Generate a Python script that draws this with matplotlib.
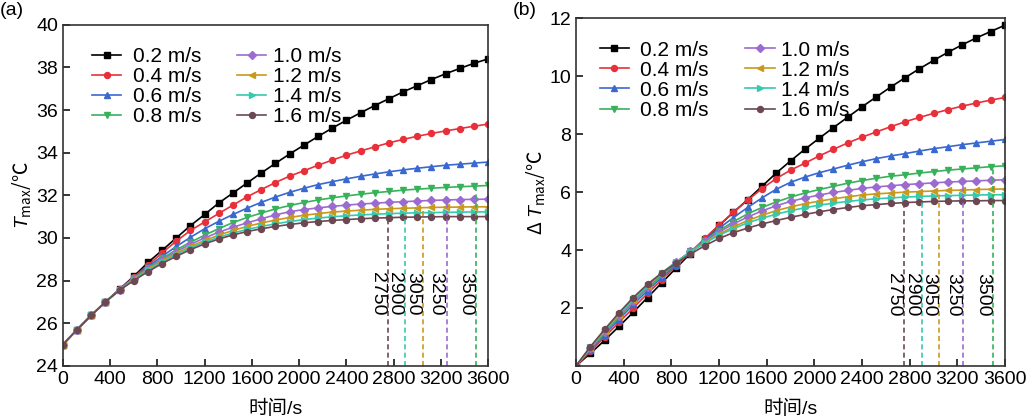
import numpy as np
import matplotlib
matplotlib.use("Agg")
import matplotlib.pyplot as plt
from matplotlib.lines import Line2D
from matplotlib.legend_handler import HandlerLine2D

plt.rcParams["font.family"] = ["Liberation Sans", "Noto Sans CJK SC", "DejaVu Sans"]
plt.rcParams["mathtext.fontset"] = "custom"
plt.rcParams["mathtext.rm"] = "Noto Sans CJK SC"
plt.rcParams["mathtext.it"] = "Liberation Sans:italic"

# time axis: one point every 120 s
time_s = np.arange(0, 3601, 120)

speeds = ["0.2 m/s", "0.4 m/s", "0.6 m/s", "0.8 m/s",
          "1.0 m/s", "1.2 m/s", "1.4 m/s", "1.6 m/s"]
colors = ["#000000", "#e8303a", "#3868d0", "#38b25a",
          "#9c6bd0", "#c8991c", "#36c9ad", "#6d4752"]
markers = ["s", "o", "^", "v", "D", "<", ">", "o"]

# (a) maximum temperature, degC
tmax = [
    [25.0, 25.7, 26.37, 27.0, 27.6, 28.2, 28.85, 29.42, 30.0, 30.58, 31.1, 31.64, 32.11, 32.58,
     33.05, 33.5, 33.94, 34.35, 34.76, 35.15, 35.52, 35.87, 36.21, 36.53, 36.85, 37.14, 37.43,
     37.7, 37.95, 38.19, 38.4],
    [25.0, 25.7, 26.37, 27.0, 27.59, 28.16, 28.72, 29.3, 29.85, 30.35, 30.75, 31.15, 31.54, 31.93,
     32.27, 32.6, 32.9, 33.15, 33.41, 33.65, 33.88, 34.08, 34.27, 34.46, 34.62, 34.77, 34.9,
     35.02, 35.13, 35.24, 35.34],
    [25.0, 25.7, 26.37, 27.0, 27.58, 28.13, 28.65, 29.14, 29.6, 30.03, 30.43, 30.78, 31.1, 31.4,
     31.67, 31.92, 32.14, 32.33, 32.5, 32.64, 32.77, 32.89, 33.0, 33.1, 33.19, 33.27, 33.34,
     33.41, 33.46, 33.51, 33.56],
    [25.0, 25.7, 26.37, 27.0, 27.57, 28.1, 28.6, 29.04, 29.44, 29.8, 30.13, 30.44, 30.72, 30.96,
     31.17, 31.36, 31.52, 31.66, 31.78, 31.88, 31.97, 32.05, 32.12, 32.18, 32.24, 32.29, 32.33,
     32.37, 32.4, 32.43, 32.46],
    [25.0, 25.7, 26.37, 27.0, 27.57, 28.08, 28.56, 28.98, 29.36, 29.7, 30.0, 30.27, 30.5, 30.71,
     30.9, 31.08, 31.23, 31.33, 31.41, 31.48, 31.54, 31.59, 31.63, 31.67, 31.7, 31.73, 31.76,
     31.78, 31.8, 31.81, 31.82],
    [25.0, 25.7, 26.37, 27.0, 27.56, 28.06, 28.52, 28.92, 29.28, 29.6, 29.88, 30.13, 30.35, 30.54,
     30.7, 30.84, 30.96, 31.06, 31.14, 31.21, 31.26, 31.3, 31.34, 31.37, 31.39, 31.41, 31.43,
     31.44, 31.45, 31.46, 31.46],
    [25.0, 25.7, 26.37, 27.0, 27.56, 28.04, 28.48, 28.87, 29.22, 29.53, 29.8, 30.03, 30.23, 30.4,
     30.54, 30.66, 30.77, 30.86, 30.93, 30.99, 31.04, 31.08, 31.11, 31.14, 31.16, 31.18, 31.19,
     31.2, 31.21, 31.22, 31.22],
    [25.0, 25.7, 26.37, 27.0, 27.55, 28.0, 28.42, 28.8, 29.14, 29.45, 29.72, 29.95, 30.14, 30.3,
     30.43, 30.54, 30.63, 30.71, 30.77, 30.82, 30.86, 30.9, 30.93, 30.95, 30.97, 30.98, 30.99,
     31.0, 31.0, 31.0, 31.0],
]

# (b) maximum temperature difference, degC
dtmax = [
    [0, 0.43, 0.88, 1.36, 1.85, 2.36, 2.87, 3.38, 3.88, 4.38, 4.85, 5.3, 5.74, 6.2, 6.66, 7.08,
     7.48, 7.86, 8.23, 8.59, 8.95, 9.29, 9.63, 9.95, 10.26, 10.55, 10.83, 11.09, 11.33, 11.55, 11.77],
    [0, 0.5, 1.0, 1.5, 2.0, 2.5, 2.98, 3.45, 3.92, 4.4, 4.86, 5.3, 5.72, 6.12, 6.47, 6.76, 7.0,
     7.25, 7.48, 7.7, 7.9, 8.08, 8.26, 8.43, 8.58, 8.72, 8.85, 8.97, 9.08, 9.18, 9.27],
    [0, 0.55, 1.08, 1.6, 2.12, 2.6, 3.06, 3.5, 3.93, 4.35, 4.75, 5.12, 5.47, 5.8, 6.1, 6.34, 6.52,
     6.67, 6.8, 6.93, 7.05, 7.16, 7.25, 7.33, 7.42, 7.5, 7.57, 7.64, 7.7, 7.76, 7.82],
    [0, 0.58, 1.13, 1.67, 2.2, 2.68, 3.13, 3.55, 3.95, 4.32, 4.67, 4.98, 5.25, 5.47, 5.66, 5.83,
     5.97, 6.09, 6.2, 6.31, 6.4, 6.48, 6.55, 6.6, 6.66, 6.71, 6.76, 6.8, 6.84, 6.88, 6.91],
    [0, 0.6, 1.17, 1.72, 2.25, 2.74, 3.18, 3.58, 3.95, 4.3, 4.62, 4.9, 5.14, 5.35, 5.53, 5.68,
     5.8, 5.9, 5.99, 6.06, 6.13, 6.18, 6.22, 6.26, 6.29, 6.32, 6.35, 6.37, 6.39, 6.41, 6.43],
    [0, 0.62, 1.2, 1.76, 2.28, 2.77, 3.2, 3.59, 3.94, 4.26, 4.55, 4.8, 5.02, 5.2, 5.36, 5.49,
     5.6, 5.69, 5.77, 5.84, 5.9, 5.94, 5.97, 6.0, 6.02, 6.04, 6.06, 6.07, 6.09, 6.1, 6.11],
    [0, 0.64, 1.23, 1.79, 2.31, 2.79, 3.21, 3.59, 3.93, 4.24, 4.51, 4.74, 4.94, 5.1, 5.24, 5.36,
     5.46, 5.55, 5.62, 5.68, 5.73, 5.77, 5.8, 5.83, 5.85, 5.87, 5.88, 5.89, 5.9, 5.91, 5.91],
    [0, 0.66, 1.26, 1.83, 2.36, 2.82, 3.21, 3.55, 3.86, 4.15, 4.4, 4.6, 4.76, 4.9, 5.02, 5.13,
     5.23, 5.32, 5.4, 5.47, 5.53, 5.57, 5.61, 5.64, 5.66, 5.68, 5.69, 5.7, 5.7, 5.71, 5.71],
]

# times at which each fan speed reaches steady state (s); series index of the marker line
steady_time = [2750, 2900, 3050, 3250, 3500]
steady_series = [7, 6, 5, 4, 3]


class EndMarkerHandler(HandlerLine2D):
    # Origin-style legend key: marker sits at the right end of the line
    def get_xdata(self, legend, xdescent, ydescent, width, height, fontsize):
        xdata, _ = super().get_xdata(legend, xdescent, ydescent, width, height, fontsize)
        return xdata, [xdata[-1]]


def draw_panel(ax, data, ylim, yticks, ylabel, label_top, leg_x):
    lines = []
    for i, vals in enumerate(data):
        ln, = ax.plot(time_s, vals, color=colors[i], marker=markers[i], ms=4.3, lw=1.2,
                      label=speeds[i])
        lines.append(ln)
    for t, si in zip(steady_time, steady_series):
        ytop = np.interp(t, time_s, data[si])
        ax.vlines(t, ylim[0], ytop, colors=colors[si], linestyles=(0, (3, 2)), lw=1.2)
        ax.annotate(str(t), xy=(t, label_top), xytext=(-1.5, 0), textcoords="offset points",
                    rotation=-90, ha="right", va="top", fontsize=14)
    ax.set_xlim(0, 3600)
    ax.set_ylim(*ylim)
    ax.set_xticks(np.arange(0, 3601, 400))
    ax.set_yticks(yticks)
    ax.tick_params(direction="in", labelsize=14, length=5, width=1.1)
    for s in ax.spines.values():
        s.set_linewidth(1.2)
        s.set_color("#333333")
    ax.set_xlabel("时间/s", fontsize=14, labelpad=9)
    ax.set_ylabel(ylabel, fontsize=14, labelpad=2, family="Noto Sans CJK SC")

    # two single-column legends (the second column sits closer to its text)
    common = dict(loc="upper left", frameon=False, fontsize=15, handlelength=1.4,
                  labelspacing=0.05, numpoints=1,
                  handler_map={Line2D: EndMarkerHandler(numpoints=1)})
    leg1 = ax.legend(handles=lines[:4], bbox_to_anchor=(leg_x[0], 0.99),
                     handletextpad=0.55, **common)
    ax.add_artist(leg1)
    ax.legend(handles=lines[4:], bbox_to_anchor=(leg_x[1], 0.99),
              handletextpad=0.3, **common)


fig = plt.figure(figsize=(10.27, 4.2), dpi=100)
ax1 = fig.add_axes([0.0613, 0.129, 0.4139, 0.812])
ax2 = fig.add_axes([0.5609, 0.129, 0.4177, 0.827])

draw_panel(ax1, tmax, (24, 40), np.arange(24, 41, 2), r"$T_{\mathrm{max}}$/℃", 28.4,
           (0.025, 0.366))
draw_panel(ax2, dtmax, (0, 12), np.arange(2, 13, 2), r"Δ $T_{\mathrm{max}}$/℃", 3.2,
           (0.011, 0.351))

fig.text(0.0, 0.975, "(a)", fontsize=14, va="center", ha="left")
fig.text(0.499, 0.975, "(b)", fontsize=14, va="center", ha="left")

fig.savefig("out.png", dpi=100)
